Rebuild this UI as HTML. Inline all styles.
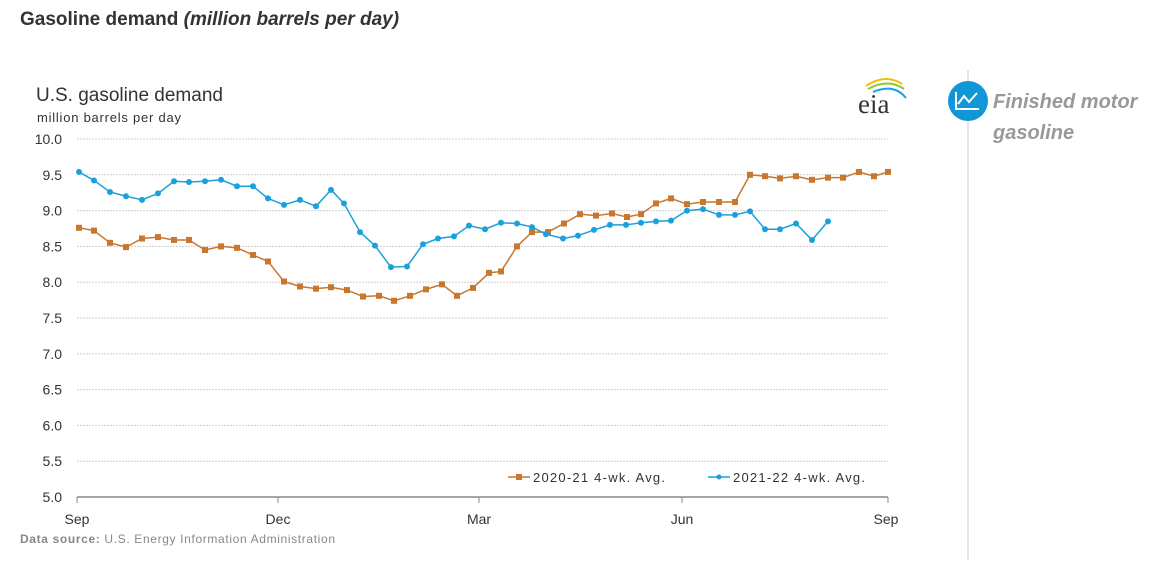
<!DOCTYPE html>
<html><head><meta charset="utf-8"><style>
body{margin:0;background:#fff;width:1176px;height:569px;overflow:hidden;font-family:"Liberation Sans",Arial,sans-serif;}
</style></head><body>
<svg width="1176" height="569" xmlns="http://www.w3.org/2000/svg" font-family="Liberation Sans, Arial, sans-serif">
<text x="20" y="25" font-size="19" font-weight="bold" fill="#333">Gasoline demand <tspan font-style="italic">(million barrels per day)</tspan></text>
<text x="36" y="101" font-size="19" fill="#333">U.S. gasoline demand</text>
<text x="37" y="122" font-size="13" fill="#333" textLength="144">million barrels per day</text>
<g id="grid" stroke="#d0d0d0" stroke-dasharray="2,1" stroke-width="1"></g>
<g id="ylab" font-size="14" fill="#333" text-anchor="end"></g>
<line x1="77" y1="497" x2="888" y2="497" stroke="#888" stroke-width="1.5"/>
<g stroke="#888" stroke-width="1">
<line x1="77" y1="497" x2="77" y2="503"/><line x1="278" y1="497" x2="278" y2="503"/><line x1="479" y1="497" x2="479" y2="503"/><line x1="682" y1="497" x2="682" y2="503"/><line x1="888" y1="497" x2="888" y2="503"/>
</g>
<g font-size="14" fill="#333" text-anchor="middle">
<text x="77" y="524">Sep</text><text x="278" y="524">Dec</text><text x="479" y="524">Mar</text><text x="682" y="524">Jun</text><text x="886" y="524">Sep</text>
</g>
<text x="20" y="543" font-size="12" fill="#888" textLength="315"><tspan font-weight="bold">Data source:</tspan> U.S. Energy Information Administration</text>
<g id="series"></g>
<g font-size="13" fill="#333">
<line x1="508" y1="477" x2="530" y2="477" stroke="#c7772e" stroke-width="1.5"/><rect x="516" y="474" width="6" height="6" fill="#c7772e"/>
<text x="533" y="482" textLength="132">2020-21  4-wk. Avg.</text>
<line x1="708" y1="477" x2="730" y2="477" stroke="#1aa0dc" stroke-width="1.5"/><circle cx="719" cy="477" r="2.5" fill="#1aa0dc"/>
<text x="733" y="482" textLength="132">2021-22  4-wk. Avg.</text>
</g>
<text x="858" y="113" font-size="27" font-family="Liberation Serif, serif" fill="#333">eia</text>
<path d="M866 86 Q885 73 902 84" stroke="#f0c000" stroke-width="2" fill="none"/>
<path d="M868 89 Q888 78 904 89" stroke="#8cc63f" stroke-width="2" fill="none"/>
<path d="M873 92 Q894 83 906 98" stroke="#1aa0dc" stroke-width="2" fill="none"/>
<line x1="968" y1="70" x2="968" y2="560" stroke="#ccc" stroke-width="1"/>
<circle cx="968" cy="101" r="20" fill="#0f97d8"/>
<path d="M956 92 V109 H979 M958 104 L964 96 L969 102 L977 93" stroke="#fff" stroke-width="2" fill="none"/>
<text x="993" y="108" font-size="20" font-weight="bold" font-style="italic" fill="#999">Finished motor</text>
<text x="993" y="139" font-size="20" font-weight="bold" font-style="italic" fill="#999">gasoline</text>
</svg>
<script>
const Y=v=>497-(v-5)*71.6;
const g=document.getElementById('grid'),yl=document.getElementById('ylab');
let s='',t='';
for(let v=5.5;v<=10.01;v+=0.5){s+=`<line x1="77" y1="${Y(v)}" x2="888" y2="${Y(v)}"/>`;}
for(let v=5;v<=10.01;v+=0.5){t+=`<text x="62" y="${Y(v)+5}">${v.toFixed(1)}</text>`;}
g.innerHTML=s;yl.innerHTML=t;
const o=[[79,8.76],[94,8.72],[110,8.55],[126,8.49],[142,8.61],[158,8.63],[174,8.59],[189,8.59],[205,8.45],[221,8.50],[237,8.48],[253,8.38],[268,8.29],[284,8.01],[300,7.94],[316,7.91],[331,7.93],[347,7.89],[363,7.80],[379,7.81],[394,7.74],[410,7.81],[426,7.90],[442,7.97],[457,7.81],[473,7.92],[489,8.13],[501,8.15],[517,8.50],[532,8.70],[548,8.70],[564,8.82],[580,8.95],[596,8.93],[612,8.96],[627,8.91],[641,8.95],[656,9.10],[671,9.17],[687,9.09],[703,9.12],[719,9.12],[735,9.12],[750,9.50],[765,9.48],[780,9.45],[796,9.48],[812,9.43],[828,9.46],[843,9.46],[859,9.54],[874,9.48],[888,9.54]];
const b=[[79,9.54],[94,9.42],[110,9.26],[126,9.20],[142,9.15],[158,9.24],[174,9.41],[189,9.40],[205,9.41],[221,9.43],[237,9.34],[253,9.34],[268,9.17],[284,9.08],[300,9.15],[316,9.06],[331,9.29],[344,9.10],[360,8.70],[375,8.51],[391,8.21],[407,8.22],[423,8.53],[438,8.61],[454,8.64],[469,8.79],[485,8.74],[501,8.83],[517,8.82],[532,8.77],[546,8.67],[563,8.61],[578,8.65],[594,8.73],[610,8.80],[626,8.80],[641,8.83],[656,8.85],[671,8.86],[687,9.00],[703,9.02],[719,8.94],[735,8.94],[750,8.99],[765,8.74],[780,8.74],[796,8.82],[812,8.59],[828,8.85]];
let h='';
h+=`<polyline fill="none" stroke="#c7772e" stroke-width="1.5" points="${o.map(p=>p[0]+','+Y(p[1])).join(' ')}"/>`;
o.forEach(p=>h+=`<rect x="${p[0]-3}" y="${Y(p[1])-3}" width="6" height="6" fill="#c7772e"/>`);
h+=`<polyline fill="none" stroke="#1aa0dc" stroke-width="1.5" points="${b.map(p=>p[0]+','+Y(p[1])).join(' ')}"/>`;
b.forEach(p=>h+=`<circle cx="${p[0]}" cy="${Y(p[1])}" r="3" fill="#1aa0dc"/>`);
document.getElementById('series').innerHTML=h;
</script>
</body></html>
